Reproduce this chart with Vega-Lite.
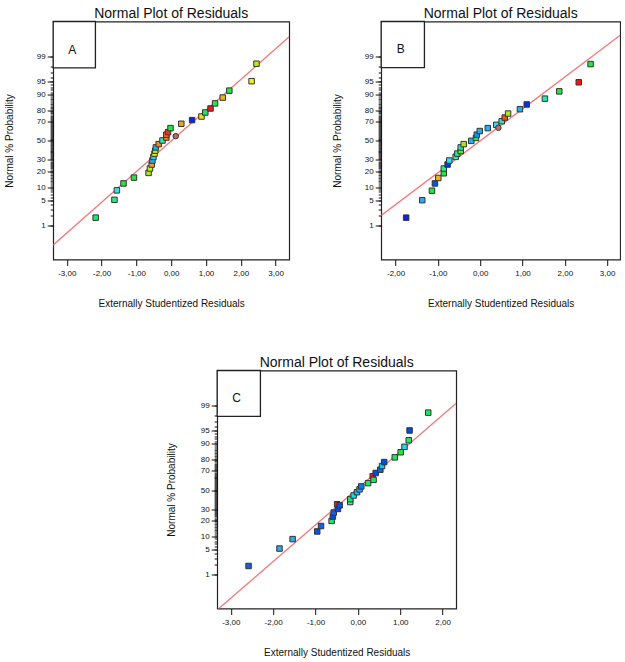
{
  "$schema": "https://vega.github.io/schema/vega-lite/v6.json",
  "background": "white",
  "padding": {"left": 3, "top": 5.5, "right": 0, "bottom": 0},
  "config": {
    "font": "Liberation Sans",
    "view": {"stroke": "#222222", "strokeWidth": 1.2},
    "axis": {"labelFont": "Liberation Sans", "titleFont": "Liberation Sans", "titleFontWeight": "normal", "labelColor": "#111111", "titleColor": "#111111", "tickColor": "#111111", "domainColor": "#111111", "grid": false},
    "title": {"font": "Liberation Sans", "fontSize": 14, "fontWeight": "normal", "color": "#111111", "offset": 0, "dy": 4, "baseline": "alphabetic", "anchor": "middle"}
  },
  "datasets": {
    "pts": [
      {"panel":"A","res":-2.17,"z":-2.11,"level":0.47,"kind":"run"},
      {"panel":"A","res":-1.63,"z":-1.62,"level":0.45,"kind":"run"},
      {"panel":"A","res":-1.56,"z":-1.36,"level":0.32,"kind":"run"},
      {"panel":"A","res":-1.37,"z":-1.17,"level":0.5,"kind":"run"},
      {"panel":"A","res":-1.07,"z":-1.01,"level":0.5,"kind":"run"},
      {"panel":"A","res":-0.65,"z":-0.88,"level":0.6,"kind":"run"},
      {"panel":"A","res":-0.61,"z":-0.76,"level":0.64,"kind":"run"},
      {"panel":"A","res":-0.56,"z":-0.65,"level":0.8,"kind":"run"},
      {"panel":"A","res":-0.54,"z":-0.54,"level":0.2,"kind":"run"},
      {"panel":"A","res":-0.51,"z":-0.44,"level":0.3,"kind":"run"},
      {"panel":"A","res":-0.48,"z":-0.35,"level":0.68,"kind":"run"},
      {"panel":"A","res":-0.46,"z":-0.27,"level":0.62,"kind":"run"},
      {"panel":"A","res":-0.44,"z":-0.18,"level":0.22,"kind":"run"},
      {"panel":"A","res":-0.36,"z":-0.09,"level":0.83,"kind":"run"},
      {"panel":"A","res":-0.25,"z":0.01,"level":0.4,"kind":"run"},
      {"panel":"A","res":-0.14,"z":0.09,"level":0.85,"kind":"run"},
      {"panel":"A","res":-0.14,"z":0.17,"level":0.87,"kind":"run"},
      {"panel":"A","res":-0.09,"z":0.24,"level":0.97,"kind":"run"},
      {"panel":"A","res":-0.02,"z":0.35,"level":0.5,"kind":"run"},
      {"panel":"A","res":0.13,"z":0.13,"level":0.95,"kind":"highlight"},
      {"panel":"A","res":0.29,"z":0.47,"level":0.8,"kind":"run"},
      {"panel":"A","res":0.60,"z":0.57,"level":0.0,"kind":"run"},
      {"panel":"A","res":0.87,"z":0.67,"level":0.72,"kind":"run"},
      {"panel":"A","res":0.98,"z":0.78,"level":0.48,"kind":"run"},
      {"panel":"A","res":1.13,"z":0.89,"level":1.0,"kind":"run"},
      {"panel":"A","res":1.26,"z":1.03,"level":0.5,"kind":"run"},
      {"panel":"A","res":1.48,"z":1.19,"level":0.78,"kind":"run"},
      {"panel":"A","res":1.67,"z":1.38,"level":0.5,"kind":"run"},
      {"panel":"A","res":2.31,"z":1.64,"level":0.7,"kind":"run"},
      {"panel":"A","res":2.45,"z":2.12,"level":0.62,"kind":"run"},

      {"panel":"B","res":-1.75,"z":-2.11,"level":0.0,"kind":"run"},
      {"panel":"B","res":-1.37,"z":-1.63,"level":0.2,"kind":"run"},
      {"panel":"B","res":-1.14,"z":-1.37,"level":0.5,"kind":"run"},
      {"panel":"B","res":-1.07,"z":-1.17,"level":0.08,"kind":"run"},
      {"panel":"B","res":-0.99,"z":-1.02,"level":0.78,"kind":"run"},
      {"panel":"B","res":-0.86,"z":-0.89,"level":0.5,"kind":"run"},
      {"panel":"B","res":-0.86,"z":-0.76,"level":0.45,"kind":"run"},
      {"panel":"B","res":-0.77,"z":-0.65,"level":0.03,"kind":"run"},
      {"panel":"B","res":-0.73,"z":-0.54,"level":0.32,"kind":"run"},
      {"panel":"B","res":-0.58,"z":-0.44,"level":0.4,"kind":"run"},
      {"panel":"B","res":-0.54,"z":-0.35,"level":0.44,"kind":"run"},
      {"panel":"B","res":-0.46,"z":-0.28,"level":0.53,"kind":"run"},
      {"panel":"B","res":-0.46,"z":-0.18,"level":0.42,"kind":"run"},
      {"panel":"B","res":-0.39,"z":-0.09,"level":0.6,"kind":"run"},
      {"panel":"B","res":-0.21,"z":0.0,"level":0.22,"kind":"run"},
      {"panel":"B","res":-0.10,"z":0.08,"level":0.5,"kind":"run"},
      {"panel":"B","res":-0.08,"z":0.17,"level":0.18,"kind":"run"},
      {"panel":"B","res":-0.01,"z":0.27,"level":0.2,"kind":"run"},
      {"panel":"B","res":0.18,"z":0.35,"level":0.22,"kind":"run"},
      {"panel":"B","res":0.38,"z":0.44,"level":0.32,"kind":"run"},
      {"panel":"B","res":0.43,"z":0.36,"level":0.95,"kind":"highlight"},
      {"panel":"B","res":0.51,"z":0.54,"level":0.4,"kind":"run"},
      {"panel":"B","res":0.58,"z":0.64,"level":0.92,"kind":"run"},
      {"panel":"B","res":0.66,"z":0.75,"level":0.6,"kind":"run"},
      {"panel":"B","res":0.94,"z":0.87,"level":0.22,"kind":"run"},
      {"panel":"B","res":1.10,"z":1.00,"level":0.02,"kind":"run"},
      {"panel":"B","res":1.53,"z":1.16,"level":0.42,"kind":"run"},
      {"panel":"B","res":1.87,"z":1.36,"level":0.5,"kind":"run"},
      {"panel":"B","res":2.33,"z":1.61,"level":1.0,"kind":"run"},
      {"panel":"B","res":2.61,"z":2.11,"level":0.5,"kind":"run"},

      {"panel":"C","res":-2.58,"z":-2.09,"level":0.1,"kind":"run"},
      {"panel":"C","res":-1.85,"z":-1.61,"level":0.2,"kind":"run"},
      {"panel":"C","res":-1.54,"z":-1.35,"level":0.2,"kind":"run"},
      {"panel":"C","res":-0.96,"z":-1.14,"level":0.08,"kind":"run"},
      {"panel":"C","res":-0.87,"z":-0.99,"level":0.1,"kind":"run"},
      {"panel":"C","res":-0.62,"z":-0.85,"level":0.48,"kind":"run"},
      {"panel":"C","res":-0.59,"z":-0.73,"level":0.06,"kind":"run"},
      {"panel":"C","res":-0.57,"z":-0.62,"level":0.1,"kind":"run"},
      {"panel":"C","res":-0.47,"z":-0.52,"level":0.06,"kind":"run"},
      {"panel":"C","res":-0.49,"z":-0.39,"level":1.0,"kind":"run"},
      {"panel":"C","res":-0.43,"z":-0.42,"level":0.08,"kind":"run"},
      {"panel":"C","res":-0.18,"z":-0.33,"level":0.4,"kind":"run"},
      {"panel":"C","res":-0.18,"z":-0.25,"level":0.48,"kind":"run"},
      {"panel":"C","res":-0.10,"z":-0.15,"level":0.3,"kind":"run"},
      {"panel":"C","res":-0.02,"z":-0.06,"level":0.24,"kind":"run"},
      {"panel":"C","res":0.04,"z":0.02,"level":0.2,"kind":"run"},
      {"panel":"C","res":0.08,"z":0.10,"level":0.14,"kind":"run"},
      {"panel":"C","res":0.24,"z":0.19,"level":0.48,"kind":"run"},
      {"panel":"C","res":0.35,"z":0.38,"level":1.0,"kind":"run"},
      {"panel":"C","res":0.37,"z":0.28,"level":0.48,"kind":"run"},
      {"panel":"C","res":0.42,"z":0.47,"level":0.06,"kind":"run"},
      {"panel":"C","res":0.53,"z":0.56,"level":0.1,"kind":"run"},
      {"panel":"C","res":0.57,"z":0.66,"level":0.28,"kind":"run"},
      {"panel":"C","res":0.62,"z":0.77,"level":0.06,"kind":"run"},
      {"panel":"C","res":0.87,"z":0.90,"level":0.48,"kind":"run"},
      {"panel":"C","res":1.01,"z":1.04,"level":0.5,"kind":"run"},
      {"panel":"C","res":1.10,"z":1.19,"level":0.3,"kind":"run"},
      {"panel":"C","res":1.20,"z":1.37,"level":0.47,"kind":"run"},
      {"panel":"C","res":1.22,"z":1.64,"level":0.06,"kind":"run"},
      {"panel":"C","res":1.66,"z":2.13,"level":0.48,"kind":"run"}
    ],
    "fit": [
      {"panel":"A","res":-3.39,"z":-2.86},
      {"panel":"A","res":3.39,"z":2.86},
      {"panel":"B","res":-2.34,"z":-2.05},
      {"panel":"B","res":3.31,"z":2.90},
      {"panel":"C","res":-3.32,"z":-3.30},
      {"panel":"C","res":2.32,"z":2.39}
    ],
    "lab": [
      {"panel":"A","label":"A"},
      {"panel":"B","label":"B"},
      {"panel":"C","label":"C"}
    ]
  },
  "resolve": {"scale": {"x": "independent", "y": "independent"}},
  "spacing": 45,
  "center": true,
  "vconcat": [
    {
      "spacing": 41,
      "resolve": {"scale": {"x": "independent", "y": "independent"}},
      "hconcat": [
        {
          "width": 236, "height": 238,
          "title": "Normal Plot of Residuals",
          "resolve": {"axis": {"x": "independent", "y": "independent"}},
          "layer": [
            {
              "data": {"name": "fit"},
              "transform": [{"filter": "datum.panel === 'A'"}],
              "mark": {"type": "line", "color": "#f47878", "strokeWidth": 1.3, "clip": true},
              "encoding": {
                "x": {"field": "res", "type": "quantitative", "scale": {"domain": [-3.39, 3.39], "nice": false, "zero": false},
                  "axis": {"orient": "bottom", "values": [-3,-2,-1,0,1,2,3], "tickSize": 6, "labelFontSize": 8, "labelPadding": 4, "labelOverlap": false, "labelFlush": false, "domain": false,
                    "labelExpr": "(datum.value < 0 ? '-' : '') + replace(format(abs(datum.value), '.2f'), '.', ',')",
                    "title": "Externally Studentized Residuals", "titleFontSize": 10, "titleY": 47, "titleBaseline": "alphabetic"}},
                "y": {"field": "z", "type": "quantitative", "scale": {"domain": [-3.26, 3.28], "nice": false, "zero": false},
                  "axis": {"orient": "left", "values": [-2.3263,-1.6449,-1.2816,-0.8416,-0.5244,0,0.5244,0.8416,1.2816,1.6449,2.3263], "tickSize": 6,
                    "labelExpr": "'' + round(cumulativeNormal(datum.value) * 100)", "labelFontSize": 8, "labelPadding": 2, "labelOverlap": false, "domain": false,
                    "title": "Normal % Probability", "titleFontSize": 10, "titleAngle": 270, "titleAlign": "center", "titleBaseline": "alphabetic", "titleX": -40.8, "titleY": 119}}
              }
            },
            {
              "data": {"name": "pts"},
              "transform": [{"filter": "datum.panel === 'A'"}],
              "mark": {"type": "point", "filled": true, "size": 30, "stroke": "#333333", "strokeWidth": 1, "opacity": 1},
              "encoding": {
                "x": {"field": "res", "type": "quantitative", "axis": null},
                "y": {"field": "z", "type": "quantitative",
                  "axis": {"orient": "left", "values": [-2.3263,-2.0537,-1.8808,-1.7507,-1.6449,-1.5548,-1.4758,-1.4051,-1.3408,-1.2816,-1.2265,-1.175,-1.1264,-1.0803,-1.0364,-0.9945,-0.9542,-0.9154,-0.8779,-0.8416,-0.8064,-0.7722,-0.7388,-0.7063,-0.6745,-0.6433,-0.6128,-0.5828,-0.5534,-0.5244,-0.4959,-0.4677,-0.4399,-0.4125,-0.3853,-0.3585,-0.3319,-0.3055,-0.2793,-0.2533,-0.2275,-0.2019,-0.1764,-0.151,-0.1257,-0.1004,-0.0753,-0.0502,-0.0251,0,0.0251,0.0502,0.0753,0.1004,0.1257,0.151,0.1764,0.2019,0.2275,0.2533,0.2793,0.3055,0.3319,0.3585,0.3853,0.4125,0.4399,0.4677,0.4959,0.5244,0.5534,0.5828,0.6128,0.6433,0.6745,0.7063,0.7388,0.7722,0.8064,0.8416,0.8779,0.9154,0.9542,0.9945,1.0364,1.0803,1.1264,1.175,1.2265,1.2816,1.3408,1.4051,1.4758,1.5548,1.6449,1.7507,1.8808,2.0537,2.3263],
                    "tickSize": 3, "labels": false, "domain": false, "title": null}},
                "color": {"condition": {"test": "datum.kind === 'highlight'", "value": "#c86060"}, "field": "level", "type": "quantitative",
                  "scale": {"type": "linear", "domain": [0, 0.1, 0.2, 0.32, 0.4, 0.45, 0.5, 0.6, 0.7, 0.76, 0.83, 0.92, 1], "range": ["#1020e8", "#1660e8", "#30a8f0", "#30e0f0", "#30e8b8", "#30e888", "#20e840", "#a8e820", "#f0f020", "#f0c020", "#f08820", "#f05020", "#f01818"]}, "legend": null},
                "shape": {"field": "kind", "type": "nominal", "scale": {"domain": ["run", "highlight"], "range": ["square", "circle"]}, "legend": null}
              }
            },
            {
              "data": {"name": "lab"},
              "transform": [{"filter": "datum.panel === 'A'"}],
              "mark": {"type": "rect", "fill": "white", "stroke": "#222222", "strokeWidth": 1.3},
              "encoding": {
                "x": {"datum": -3.39, "type": "quantitative", "axis": null},
                "x2": {"datum": -2.177},
                "y": {"datum": 2.005, "type": "quantitative", "axis": null},
                "y2": {"datum": 3.28}
              }
            },
            {
              "data": {"name": "lab"},
              "transform": [{"filter": "datum.panel === 'A'"}],
              "mark": {"type": "text", "fontSize": 12, "color": "#111111", "align": "center", "baseline": "middle"},
              "encoding": {
                "x": {"datum": -2.84, "type": "quantitative", "axis": null},
                "y": {"datum": 2.5, "type": "quantitative", "axis": null},
                "text": {"field": "label"}
              }
            }
          ]
        },
        {
          "width": 239, "height": 238,
          "title": "Normal Plot of Residuals",
          "resolve": {"axis": {"x": "independent", "y": "independent"}},
          "layer": [
            {
              "data": {"name": "fit"},
              "transform": [{"filter": "datum.panel === 'B'"}],
              "mark": {"type": "line", "color": "#f47878", "strokeWidth": 1.3, "clip": true},
              "encoding": {
                "x": {"field": "res", "type": "quantitative", "scale": {"domain": [-2.34, 3.31], "nice": false, "zero": false},
                  "axis": {"orient": "bottom", "values": [-2,-1,0,1,2,3], "tickSize": 6, "labelFontSize": 8, "labelPadding": 4, "labelOverlap": false, "labelFlush": false, "domain": false,
                    "labelExpr": "(datum.value < 0 ? '-' : '') + replace(format(abs(datum.value), '.2f'), '.', ',')",
                    "title": "Externally Studentized Residuals", "titleFontSize": 10, "titleY": 47, "titleBaseline": "alphabetic"}},
                "y": {"field": "z", "type": "quantitative", "scale": {"domain": [-3.26, 3.28], "nice": false, "zero": false},
                  "axis": {"orient": "left", "values": [-2.3263,-1.6449,-1.2816,-0.8416,-0.5244,0,0.5244,0.8416,1.2816,1.6449,2.3263], "tickSize": 6,
                    "labelExpr": "'' + round(cumulativeNormal(datum.value) * 100)", "labelFontSize": 8, "labelPadding": 2, "labelOverlap": false, "domain": false,
                    "title": "Normal % Probability", "titleFontSize": 10, "titleAngle": 270, "titleAlign": "center", "titleBaseline": "alphabetic", "titleX": -40.8, "titleY": 119}}
              }
            },
            {
              "data": {"name": "pts"},
              "transform": [{"filter": "datum.panel === 'B'"}],
              "mark": {"type": "point", "filled": true, "size": 30, "stroke": "#333333", "strokeWidth": 1, "opacity": 1},
              "encoding": {
                "x": {"field": "res", "type": "quantitative", "axis": null},
                "y": {"field": "z", "type": "quantitative",
                  "axis": {"orient": "left", "values": [-2.3263,-2.0537,-1.8808,-1.7507,-1.6449,-1.5548,-1.4758,-1.4051,-1.3408,-1.2816,-1.2265,-1.175,-1.1264,-1.0803,-1.0364,-0.9945,-0.9542,-0.9154,-0.8779,-0.8416,-0.8064,-0.7722,-0.7388,-0.7063,-0.6745,-0.6433,-0.6128,-0.5828,-0.5534,-0.5244,-0.4959,-0.4677,-0.4399,-0.4125,-0.3853,-0.3585,-0.3319,-0.3055,-0.2793,-0.2533,-0.2275,-0.2019,-0.1764,-0.151,-0.1257,-0.1004,-0.0753,-0.0502,-0.0251,0,0.0251,0.0502,0.0753,0.1004,0.1257,0.151,0.1764,0.2019,0.2275,0.2533,0.2793,0.3055,0.3319,0.3585,0.3853,0.4125,0.4399,0.4677,0.4959,0.5244,0.5534,0.5828,0.6128,0.6433,0.6745,0.7063,0.7388,0.7722,0.8064,0.8416,0.8779,0.9154,0.9542,0.9945,1.0364,1.0803,1.1264,1.175,1.2265,1.2816,1.3408,1.4051,1.4758,1.5548,1.6449,1.7507,1.8808,2.0537,2.3263],
                    "tickSize": 3, "labels": false, "domain": false, "title": null}},
                "color": {"condition": {"test": "datum.kind === 'highlight'", "value": "#d06868"}, "field": "level", "type": "quantitative",
                  "scale": {"type": "linear", "domain": [0, 0.1, 0.2, 0.32, 0.4, 0.45, 0.5, 0.6, 0.7, 0.76, 0.83, 0.92, 1], "range": ["#1020e8", "#1660e8", "#30a8f0", "#30e0f0", "#30e8b8", "#30e888", "#20e840", "#a8e820", "#f0f020", "#f0c020", "#f08820", "#f05020", "#f01818"]}, "legend": null},
                "shape": {"field": "kind", "type": "nominal", "scale": {"domain": ["run", "highlight"], "range": ["square", "circle"]}, "legend": null}
              }
            },
            {
              "data": {"name": "lab"},
              "transform": [{"filter": "datum.panel === 'B'"}],
              "mark": {"type": "rect", "fill": "white", "stroke": "#222222", "strokeWidth": 1.3},
              "encoding": {
                "x": {"datum": -2.34, "type": "quantitative", "axis": null},
                "x2": {"datum": -1.318},
                "y": {"datum": 2.01, "type": "quantitative", "axis": null},
                "y2": {"datum": 3.28}
              }
            },
            {
              "data": {"name": "lab"},
              "transform": [{"filter": "datum.panel === 'B'"}],
              "mark": {"type": "text", "fontSize": 12, "color": "#111111", "align": "center", "baseline": "middle"},
              "encoding": {
                "x": {"datum": -1.88, "type": "quantitative", "axis": null},
                "y": {"datum": 2.52, "type": "quantitative", "axis": null},
                "text": {"field": "label"}
              }
            }
          ]
        }
      ]
    },
    {
      "width": 239, "height": 238,
      "title": "Normal Plot of Residuals",
      "resolve": {"axis": {"x": "independent", "y": "independent"}},
      "layer": [
        {
          "data": {"name": "fit"},
          "transform": [{"filter": "datum.panel === 'C'"}],
          "mark": {"type": "line", "color": "#f47878", "strokeWidth": 1.3, "clip": true},
          "encoding": {
            "x": {"field": "res", "type": "quantitative", "scale": {"domain": [-3.32, 2.32], "nice": false, "zero": false},
              "axis": {"orient": "bottom", "values": [-3,-2,-1,0,1,2], "tickSize": 6, "labelFontSize": 8, "labelPadding": 4, "labelOverlap": false, "labelFlush": false, "domain": false,
                "labelExpr": "(datum.value < 0 ? '-' : '') + replace(format(abs(datum.value), '.2f'), '.', ',')",
                "title": "Externally Studentized Residuals", "titleFontSize": 10, "titleY": 47, "titleBaseline": "alphabetic"}},
            "y": {"field": "z", "type": "quantitative", "scale": {"domain": [-3.26, 3.29], "nice": false, "zero": false},
              "axis": {"orient": "left", "values": [-2.3263,-1.6449,-1.2816,-0.8416,-0.5244,0,0.5244,0.8416,1.2816,1.6449,2.3263], "tickSize": 6,
                "labelExpr": "'' + round(cumulativeNormal(datum.value) * 100)", "labelFontSize": 8, "labelPadding": 2, "labelOverlap": false, "domain": false,
                "title": "Normal % Probability", "titleFontSize": 10, "titleAngle": 270, "titleAlign": "center", "titleBaseline": "alphabetic", "titleX": -42.8, "titleY": 119}}
          }
        },
        {
          "data": {"name": "pts"},
          "transform": [{"filter": "datum.panel === 'C'"}],
          "mark": {"type": "point", "filled": true, "size": 30, "stroke": "#333333", "strokeWidth": 1, "opacity": 1},
          "encoding": {
            "x": {"field": "res", "type": "quantitative", "axis": null},
            "y": {"field": "z", "type": "quantitative",
              "axis": {"orient": "left", "values": [-2.3263,-2.0537,-1.8808,-1.7507,-1.6449,-1.5548,-1.4758,-1.4051,-1.3408,-1.2816,-1.2265,-1.175,-1.1264,-1.0803,-1.0364,-0.9945,-0.9542,-0.9154,-0.8779,-0.8416,-0.8064,-0.7722,-0.7388,-0.7063,-0.6745,-0.6433,-0.6128,-0.5828,-0.5534,-0.5244,-0.4959,-0.4677,-0.4399,-0.4125,-0.3853,-0.3585,-0.3319,-0.3055,-0.2793,-0.2533,-0.2275,-0.2019,-0.1764,-0.151,-0.1257,-0.1004,-0.0753,-0.0502,-0.0251,0,0.0251,0.0502,0.0753,0.1004,0.1257,0.151,0.1764,0.2019,0.2275,0.2533,0.2793,0.3055,0.3319,0.3585,0.3853,0.4125,0.4399,0.4677,0.4959,0.5244,0.5534,0.5828,0.6128,0.6433,0.6745,0.7063,0.7388,0.7722,0.8064,0.8416,0.8779,0.9154,0.9542,0.9945,1.0364,1.0803,1.1264,1.175,1.2265,1.2816,1.3408,1.4051,1.4758,1.5548,1.6449,1.7507,1.8808,2.0537,2.3263],
                "tickSize": 3, "labels": false, "domain": false, "title": null}},
            "color": {"field": "level", "type": "quantitative",
              "scale": {"type": "linear", "domain": [0, 0.1, 0.2, 0.32, 0.4, 0.45, 0.5, 0.6, 0.7, 0.76, 0.83, 0.92, 1], "range": ["#1020e8", "#1660e8", "#30a8f0", "#30e0f0", "#30e8b8", "#30e888", "#20e840", "#a8e820", "#f0f020", "#f0c020", "#f08820", "#f05020", "#f01818"]}, "legend": null},
            "shape": {"field": "kind", "type": "nominal", "scale": {"domain": ["run", "highlight"], "range": ["square", "circle"]}, "legend": null}
          }
        },
        {
          "data": {"name": "lab"},
          "transform": [{"filter": "datum.panel === 'C'"}],
          "mark": {"type": "rect", "fill": "white", "stroke": "#222222", "strokeWidth": 1.3},
          "encoding": {
            "x": {"datum": -3.32, "type": "quantitative", "axis": null},
            "x2": {"datum": -2.30},
            "y": {"datum": 2.03, "type": "quantitative", "axis": null},
            "y2": {"datum": 3.29}
          }
        },
        {
          "data": {"name": "lab"},
          "transform": [{"filter": "datum.panel === 'C'"}],
          "mark": {"type": "text", "fontSize": 12, "color": "#111111", "align": "center", "baseline": "middle"},
          "encoding": {
            "x": {"datum": -2.86, "type": "quantitative", "axis": null},
            "y": {"datum": 2.54, "type": "quantitative", "axis": null},
            "text": {"field": "label"}
          }
        }
      ]
    }
  ]
}
